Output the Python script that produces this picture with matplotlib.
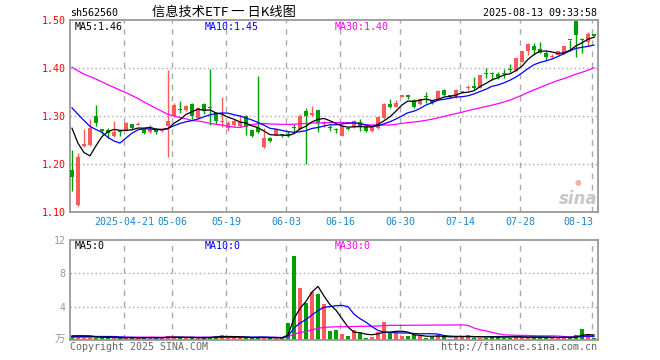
import matplotlib
matplotlib.use("Agg")
import matplotlib.pyplot as plt
import numpy as np

# ---------------- data ----------------
opens = [1.188, 1.115, 1.238, 1.240, 1.300, 1.271, 1.271, 1.259, 1.267, 1.270,
         1.283, 1.282, 1.274, 1.267, 1.272, 1.269, 1.280, 1.300, 1.313, 1.313,
         1.326, 1.297, 1.326, 1.317, 1.306, 1.287, 1.275, 1.282, 1.279, 1.300,
         1.271, 1.275, 1.235, 1.255, 1.261, 1.261, 1.261, 1.276, 1.273, 1.310,
         1.303, 1.313, 1.284, 1.277, 1.272, 1.259, 1.274, 1.277, 1.287, 1.278,
         1.268, 1.275, 1.296, 1.326, 1.320, 1.341, 1.344, 1.334, 1.326, 1.341,
         1.332, 1.335, 1.355, 1.343, 1.339, 1.350, 1.358, 1.362, 1.359, 1.389,
         1.389, 1.388, 1.389, 1.398, 1.395, 1.413, 1.435, 1.446, 1.440, 1.432,
         1.424, 1.428, 1.430, 1.459, 1.498, 1.459, 1.455, 1.471]
closes = [1.174, 1.214, 1.242, 1.276, 1.285, 1.270, 1.265, 1.266, 1.266, 1.285,
          1.275, 1.284, 1.265, 1.274, 1.267, 1.272, 1.290, 1.323, 1.312, 1.321,
          1.300, 1.317, 1.311, 1.316, 1.289, 1.288, 1.285, 1.290, 1.287, 1.278,
          1.259, 1.266, 1.255, 1.249, 1.273, 1.260, 1.260, 1.275, 1.300, 1.300,
          1.306, 1.285, 1.285, 1.276, 1.271, 1.280, 1.273, 1.289, 1.278, 1.268,
          1.280, 1.299, 1.326, 1.320, 1.328, 1.344, 1.340, 1.320, 1.335, 1.340,
          1.327, 1.353, 1.344, 1.342, 1.354, 1.351, 1.359, 1.359, 1.385, 1.388,
          1.388, 1.381, 1.388, 1.397, 1.421, 1.435, 1.451, 1.439, 1.432, 1.423,
          1.425, 1.435, 1.446, 1.458, 1.469, 1.458, 1.471, 1.467]
highs = [1.230, 1.223, 1.274, 1.294, 1.324, 1.271, 1.275, 1.289, 1.270, 1.288,
         1.284, 1.287, 1.276, 1.282, 1.275, 1.274, 1.396, 1.328, 1.332, 1.324,
         1.328, 1.320, 1.327, 1.399, 1.308, 1.341, 1.289, 1.295, 1.303, 1.302,
         1.272, 1.384, 1.275, 1.256, 1.274, 1.263, 1.268, 1.284, 1.304, 1.317,
         1.321, 1.313, 1.290, 1.281, 1.276, 1.282, 1.278, 1.291, 1.294, 1.279,
         1.281, 1.300, 1.327, 1.336, 1.333, 1.345, 1.345, 1.335, 1.337, 1.350,
         1.333, 1.354, 1.357, 1.344, 1.356, 1.353, 1.366, 1.381, 1.386, 1.401,
         1.392, 1.392, 1.399, 1.408, 1.422, 1.436, 1.452, 1.453, 1.454, 1.435,
         1.429, 1.436, 1.447, 1.459, 1.498, 1.463, 1.475, 1.472]
lows = [1.143, 1.113, 1.236, 1.238, 1.280, 1.262, 1.254, 1.257, 1.258, 1.269,
        1.273, 1.281, 1.262, 1.265, 1.262, 1.266, 1.214, 1.298, 1.306, 1.311,
        1.295, 1.295, 1.305, 1.281, 1.283, 1.278, 1.270, 1.280, 1.277, 1.261,
        1.256, 1.264, 1.233, 1.246, 1.260, 1.256, 1.256, 1.265, 1.271, 1.200,
        1.300, 1.267, 1.278, 1.270, 1.264, 1.258, 1.272, 1.276, 1.268, 1.266,
        1.266, 1.274, 1.295, 1.318, 1.319, 1.340, 1.335, 1.318, 1.324, 1.327,
        1.325, 1.334, 1.342, 1.337, 1.337, 1.348, 1.355, 1.355, 1.358, 1.380,
        1.376, 1.377, 1.380, 1.392, 1.394, 1.412, 1.427, 1.428, 1.431, 1.415,
        1.421, 1.427, 1.429, 1.435, 1.423, 1.432, 1.446, 1.466]
volumes = [0.50, 0.35, 0.30, 0.50, 0.30, 0.25, 0.30, 0.25, 0.20, 0.30,
           0.35, 0.20, 0.30, 0.35, 0.25, 0.30, 0.45, 0.40, 0.25, 0.20,
           0.30, 0.25, 0.30, 0.40, 0.45, 0.65, 0.30, 0.25, 0.30, 0.25,
           0.30, 0.35, 0.30, 0.20, 0.25, 0.20, 2.08, 10.1, 6.30, 4.50,
           5.80, 5.50, 4.30, 1.10, 1.20, 0.72, 0.48, 1.20, 0.80, 0.28,
           0.40, 1.00, 2.20, 0.80, 0.80, 0.48, 0.45, 0.60, 0.48, 0.30,
           0.40, 0.60, 0.40, 0.16, 0.48, 0.40, 0.60, 0.30, 0.28, 0.30,
           0.48, 0.48, 0.30, 0.30, 0.40, 0.30, 0.40, 0.30, 0.30, 0.30,
           0.30, 0.30, 0.40, 0.20, 0.60, 1.32, 0.72, 0.20]
# estimated history before the visible window (drives the moving averages)
prior_closes = [1.44, 1.45, 1.43, 1.44, 1.45, 1.44, 1.43, 1.44, 1.44,
                1.46, 1.47, 1.48, 1.47, 1.47, 1.46, 1.48,
                1.42, 1.41, 1.40, 1.41,
                1.35, 1.37, 1.40, 1.35, 1.33,
                1.37, 1.34, 1.31, 1.18]
prior_volumes = [0.30, 0.35, 0.25, 0.30, 0.30, 0.40, 0.30, 0.25, 0.30, 0.35,
                 0.30, 0.30, 0.25, 0.30, 0.35, 0.30, 0.30, 0.40, 0.30, 0.30,
                 0.25, 0.30, 0.30, 0.35, 0.30, 0.30, 0.30, 0.60, 0.80]
date_labels = ["2025-04-21", "05-06", "05-19", "06-03", "06-16",
               "06-30", "07-14", "07-28", "08-13"]
date_index = [9, 17, 26, 36, 45, 55, 65, 75, 87]
price_ticks = [1.10, 1.20, 1.30, 1.40, 1.50]
vol_ticks = [4, 8, 12]

# ---------------- helpers ----------------
def moving_avg(prior, values, n):
    full = np.array(prior + values, dtype=float)
    off = len(prior)
    return np.array([full[off + i - n + 1: off + i + 1].mean() for i in range(len(values))])

o = np.array(opens); c = np.array(closes); h = np.array(highs); l = np.array(lows)
v = np.array(volumes)
x = np.arange(len(c))
RED = "#ff5a5a"; GREEN = "#009e00"
up = c >= o
cols = np.where(up, RED, GREEN)

W, H = 660, 360
def fx(px): return px / W
def fy(py): return 1 - py / H

fig = plt.figure(figsize=(6.6, 3.6), dpi=100)
ax = fig.add_axes([fx(70), fy(212), 528 / W, (212 - 20.3) / H])
axv = fig.add_axes([fx(70), fy(340), 528 / W, 100 / H])

xlim = (-0.33, len(c) - 0.33)
grid_c = "#aaaaaa"
spine_c = "#999999"
mono = "DejaVu Sans Mono"

for a in (ax, axv):
    a.set_xlim(*xlim)
    for s in a.spines.values():
        s.set_color(spine_c)
        s.set_linewidth(1.3)
    a.set_xticks([])
    for di in date_index:
        a.axvline(di - 0.33, color=grid_c, lw=1.0, ls=(0, (4, 4)), zorder=0)

# ---- price panel ----
ax.set_ylim(1.10, 1.50)
for t in price_ticks[1:-1]:
    ax.axhline(t, color=grid_c, lw=1.0, ls=(0, (1, 2)), zorder=0)
ax.vlines(x, l, h, colors=cols, lw=1.0, zorder=2)
body = np.maximum(np.abs(c - o), 0.0022)
ax.bar(x, body, bottom=np.minimum(o, c), width=0.75, color=cols, edgecolor=cols,
       linewidth=0, zorder=3)
ma5 = moving_avg(prior_closes, closes, 5)
ma10 = moving_avg(prior_closes, closes, 10)
ma30 = moving_avg(prior_closes, closes, 30)
ax.plot(x, ma30, color="#ff00ff", lw=0.9, zorder=4)
ax.plot(x, ma10, color="#0000ff", lw=0.9, zorder=4)
ax.plot(x, ma5, color="black", lw=0.9, zorder=5)
ax.set_yticks(price_ticks)
ax.set_yticklabels([f"{t:.2f}" for t in price_ticks], color="red",
                   fontfamily=mono, fontsize=7.2)
ax.tick_params(axis="y", length=0, pad=3)

for xi, lab in zip(date_index, date_labels):
    ha = "right" if xi == date_index[-1] else "center"
    xx = xi - 0.33 + (0.2 if ha == "right" else 0)
    ax.text(xx, -0.025, lab, transform=ax.get_xaxis_transform(), ha=ha, va="top",
            color="#1a86d0", fontfamily=mono, fontsize=7.2)

# ---- volume panel ----
axv.set_ylim(0, 12)
for t in vol_ticks[:-1]:
    axv.axhline(t, color=grid_c, lw=1.0, ls=(0, (1, 2)), zorder=0)
axv.bar(x, v, width=0.8, color=cols, linewidth=0, zorder=2)
vma5 = moving_avg(prior_volumes, volumes, 5)
vma10 = moving_avg(prior_volumes, volumes, 10)
vma30 = moving_avg(prior_volumes, volumes, 30)
axv.plot(x, vma30, color="#ff00ff", lw=0.9, zorder=4)
axv.plot(x, vma10, color="#0000ff", lw=0.9, zorder=4)
axv.plot(x, vma5, color="black", lw=0.9, zorder=5)
axv.set_yticks(vol_ticks)
axv.set_yticklabels([str(t) for t in vol_ticks], color="#999999",
                    fontfamily=mono, fontsize=7.2)
axv.tick_params(axis="y", length=0, pad=3)

# ---- texts ----
cjk = ["Noto Sans CJK SC", "DejaVu Sans"]
fig.text(fx(70), fy(13), "sh562560", ha="left", va="center", fontfamily=mono,
         fontsize=7.2, color="black")
fig.text(fx(224), fy(12.5), "信息技术ETF 一 日K线图", ha="center", va="center",
         fontfamily=cjk, fontsize=9.5, color="black")
fig.text(fx(597), fy(13), "2025-08-13 09:33:58", ha="right", va="center",
         fontfamily=mono, fontsize=7.2, color="black")

fig.text(fx(74.5), fy(26.5), f"MA5:{ma5[-1]:.2f}", ha="left", va="center",
         fontfamily=mono, fontsize=7.2, color="black")
fig.text(fx(204.5), fy(26.5), f"MA10:{ma10[-1]:.2f}", ha="left", va="center",
         fontfamily=mono, fontsize=7.2, color="#0000ff")
fig.text(fx(334.5), fy(26.5), f"MA30:{ma30[-1]:.2f}", ha="left", va="center",
         fontfamily=mono, fontsize=7.2, color="#ff00ff")

fig.text(fx(74.5), fy(246), "MA5:0", ha="left", va="center",
         fontfamily=mono, fontsize=7.2, color="black")
fig.text(fx(204.5), fy(246), "MA10:0", ha="left", va="center",
         fontfamily=mono, fontsize=7.2, color="#0000ff")
fig.text(fx(334.5), fy(246), "MA30:0", ha="left", va="center",
         fontfamily=mono, fontsize=7.2, color="#ff00ff")

fig.text(fx(65), fy(340), "万", ha="right", va="center", fontfamily=cjk,
         fontsize=7.5, color="#999999")
fig.text(fx(70), fy(346.5), "Copyright 2025 SINA.COM", ha="left", va="center",
         fontfamily=mono, fontsize=7.2, color="#666666")
fig.text(fx(597), fy(346.5), "http://finance.sina.com.cn", ha="right", va="center",
         fontfamily=mono, fontsize=7.2, color="#666666")

# sina watermark
fig.text(fx(578), fy(199), "sina", ha="center", va="center", fontsize=12,
         fontstyle="italic", fontweight="bold", color="#c8c8c8", zorder=1)
fig.text(fx(578), fy(182), "●", ha="center", va="center", fontsize=5.5,
         color="#f0b0b0", zorder=1)

fig.savefig("out.png", dpi=100)
